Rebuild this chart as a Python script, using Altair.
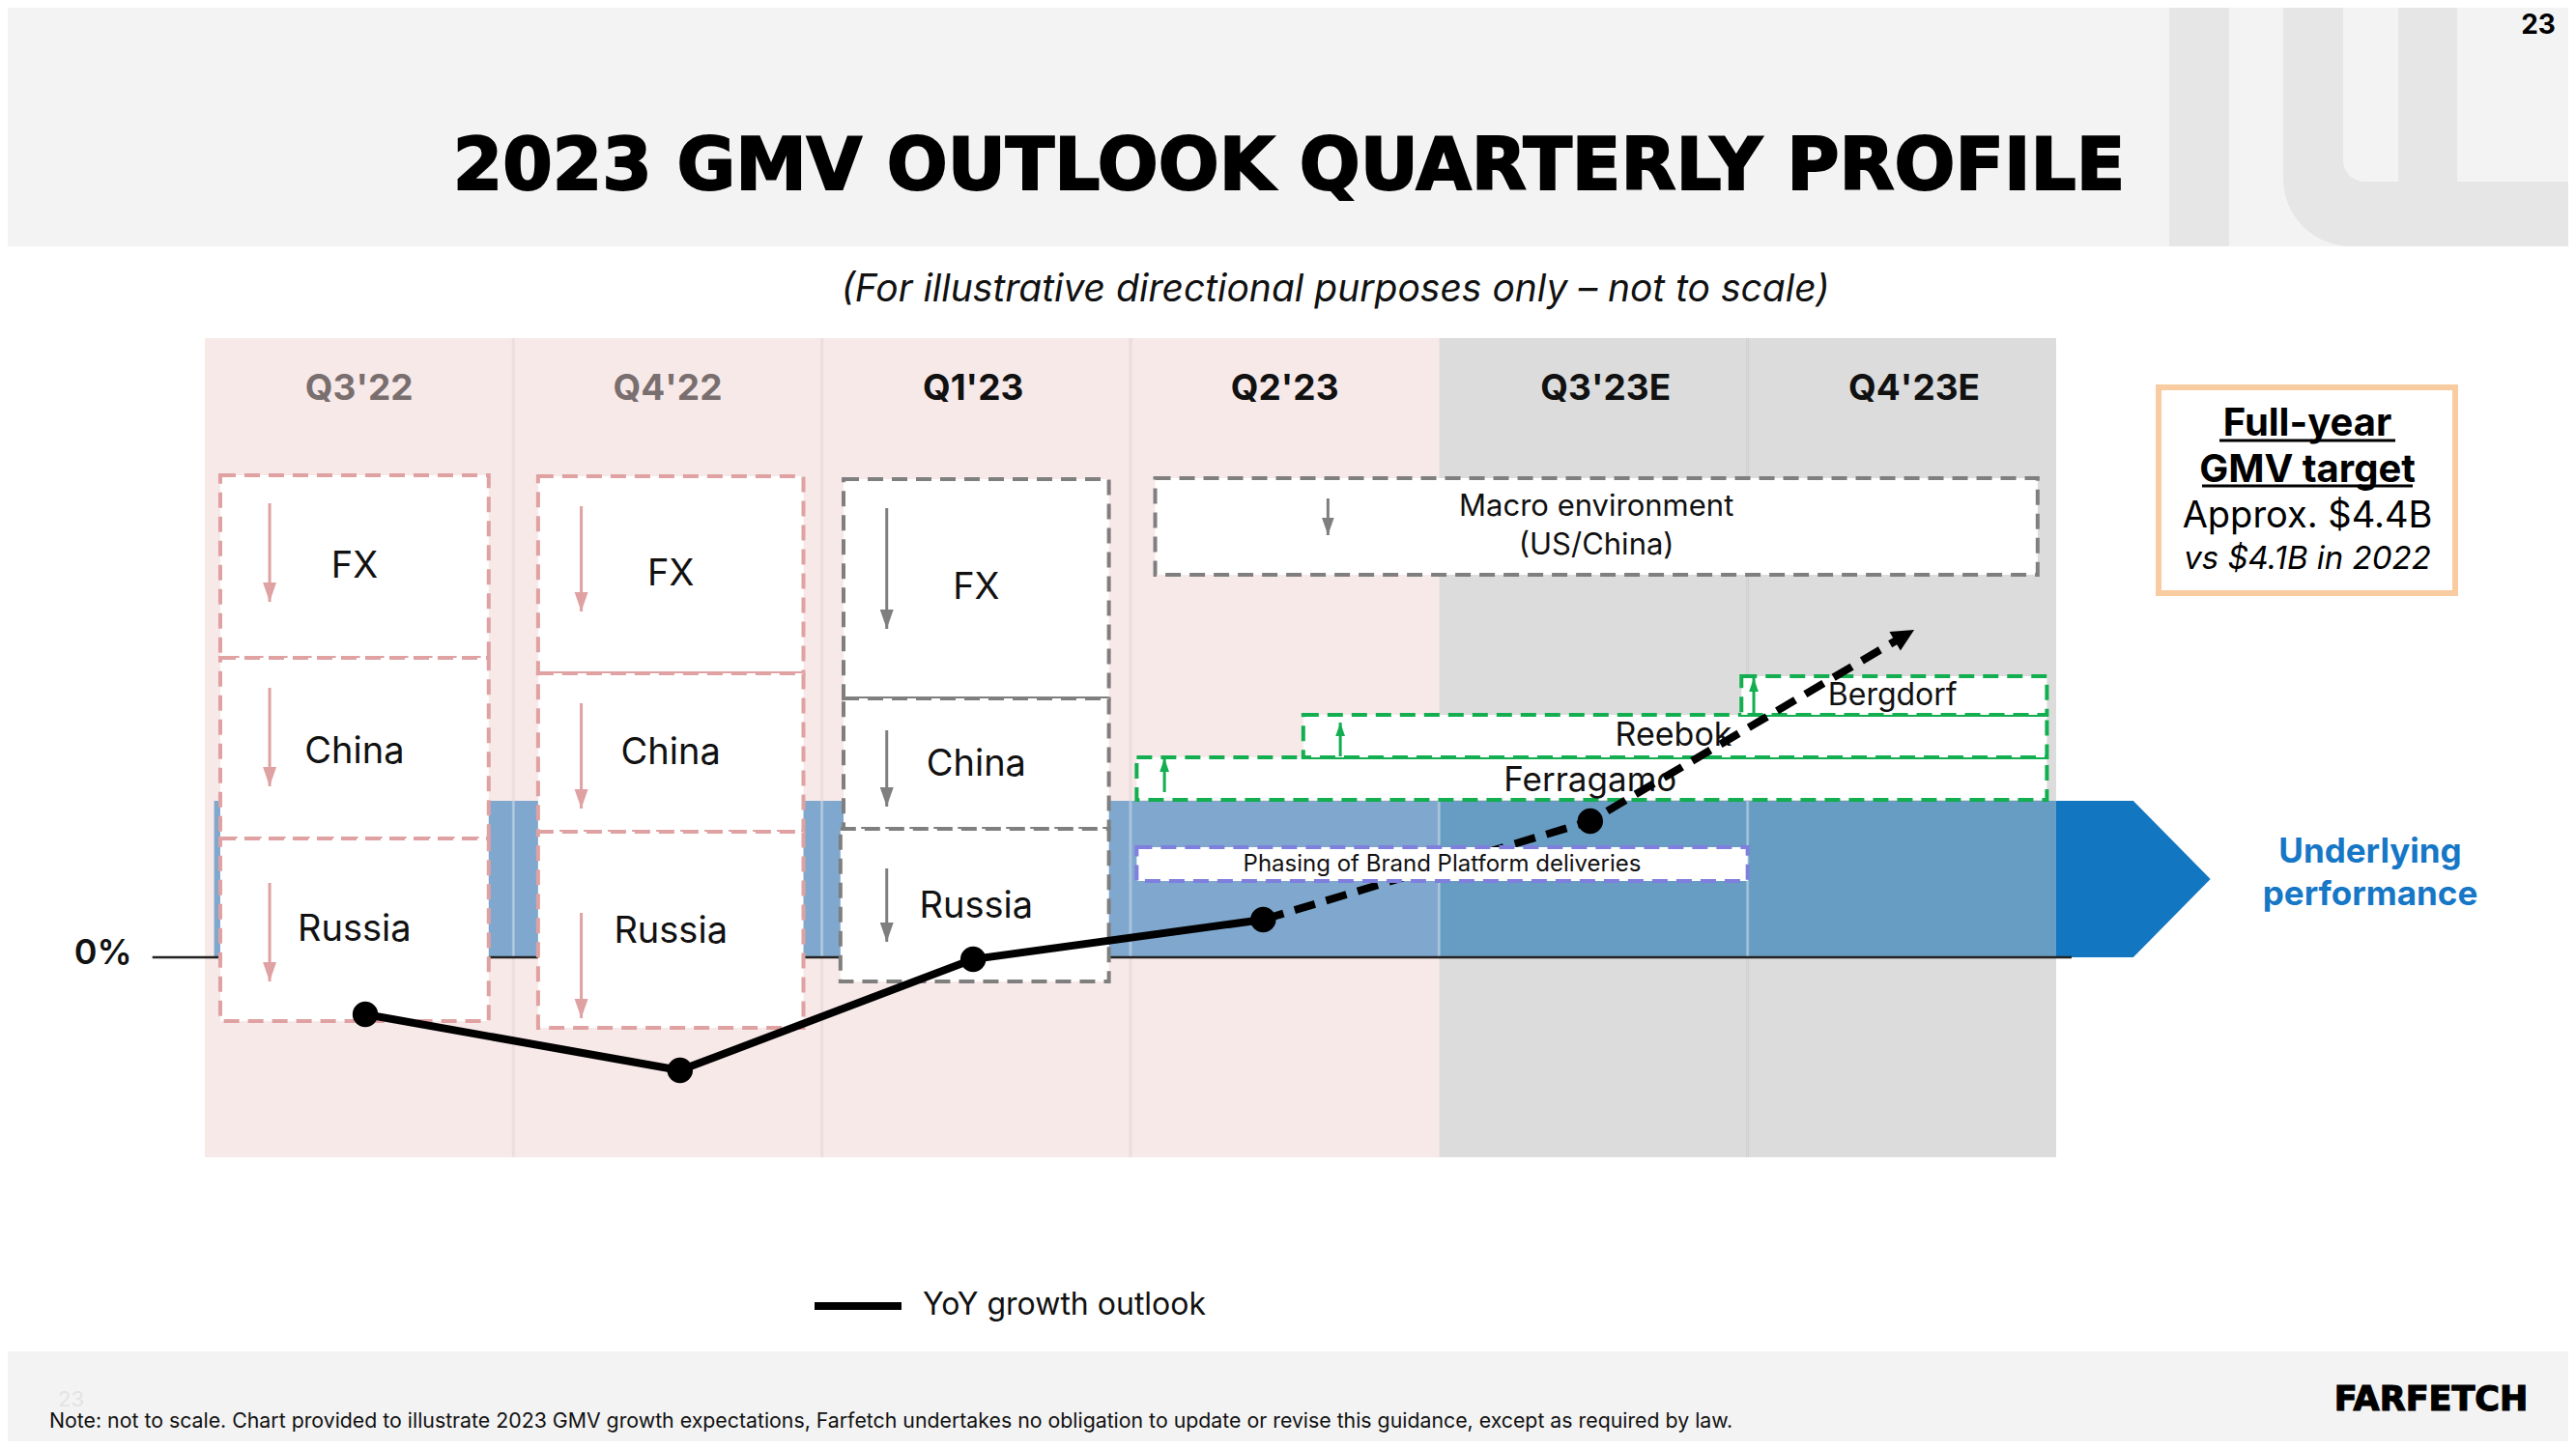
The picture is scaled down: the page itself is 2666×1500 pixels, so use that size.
import math
import altair as alt
import pandas as pd

FONT = "Inter"
HEAVY = "DejaVu Sans"
OFF = 8            # page margin
W, H = 2650, 1484  # chart size

# ---------------- data ----------------
quarters = ["Q3'22", "Q4'22", "Q1'23", "Q2'23", "Q3'23E", "Q4'23E"]
quarter_index = [0, 1, 2, 3, 4, 5]
quarter_label_pos = [0.50, 0.50, 0.49, 0.50, 0.54, 0.54]
quarter_bg = ["#F8E9E9", "#F8E9E9", "#F8E9E9", "#F8E9E9", "#DCDCDC", "#DCDCDC"]
quarter_band = ["#80A8CE", "#80A8CE", "#80A8CE", "#80A8CE", "#689DC3", "#689DC3"]
quarter_label_color = ["#7A6F6F", "#7A6F6F", "#111111", "#111111", "#111111", "#111111"]

# YoY growth outlook (illustrative index, 0 = 0%)
growth_q = [0.52, 1.54, 2.49, 3.43, 4.49, 5.54]
growth_val = [-0.59, -1.17, -0.02, 0.39, 1.41, 3.39]
n_actual = 4

# headwind boxes (FX / China / Russia)
hw_label = ["FX", "China", "Russia", "FX", "China", "Russia", "FX", "China", "Russia"]
hw_x0 = [0.05, 0.05, 0.05, 1.08, 1.08, 1.08, 2.07, 2.07, 2.06]
hw_x1 = [0.92, 0.92, 0.92, 1.94, 1.94, 1.94, 2.93, 2.93, 2.93]
hw_top = [4.99, 3.10, 1.23, 4.98, 2.94, 1.30, 4.95, 2.68, 1.33]
hw_bottom = [3.10, 1.23, -0.66, 2.94, 1.30, -0.73, 2.68, 1.33, -0.25]
hw_label_x = [0.485, 0.485, 0.485, 1.51, 1.51, 1.51, 2.50, 2.50, 2.50]
hw_label_y = [4.04, 2.12, 0.28, 3.96, 2.11, 0.26, 3.82, 1.99, 0.52]
hw_arrow_x = [0.21, 0.21, 0.21, 1.22, 1.22, 1.22, 2.21, 2.21, 2.21]
hw_arrow_from = [4.70, 2.79, 0.77, 4.67, 2.63, 0.46, 4.65, 2.35, 0.92]
hw_arrow_to = [3.68, 1.77, -0.25, 3.58, 1.54, -0.63, 3.40, 1.56, 0.16]
hw_color = ["#DFA1A1"] * 6 + ["#7F7F7F"] * 3

# macro environment box
macro_lines = ["Macro environment", "(US/China)"]
macro_x0, macro_x1, macro_bottom, macro_top = 3.08, 5.94, 3.96, 4.96
macro_text_x, macro_text_y = 4.51, [4.66, 4.26]
macro_arrow_x, macro_arrow_from, macro_arrow_to = 3.64, 4.75, 4.37

# tailwind boxes
tw_label = ["Ferragamo", "Reebok", "Bergdorf"]
tw_x0 = [3.02, 3.56, 4.98]
tw_x1 = [5.97, 5.97, 5.97]
tw_bottom = [1.63, 2.07, 2.51]
tw_top = [2.07, 2.51, 2.91]
tw_label_x = [4.49, 4.76, 5.47]
tw_label_y = [1.83, 2.29, 2.71]
tw_label_size = [35, 34, 32]
tw_arrow_x = [3.11, 3.68, 5.02]
tw_arrow_from = [1.71, 2.08, 2.53]
tw_arrow_to = [2.06, 2.43, 2.89]

# phasing box
phase_label = "Phasing of Brand Platform deliveries"
phase_x0, phase_x1, phase_bottom, phase_top = 3.02, 5.00, 0.79, 1.14
phase_text_x, phase_text_y = 4.01, 0.96

# underlying performance band + arrow
band_start, band_end, band_top = 0.03, 6.0, 1.62
arrow_x = [6.0, 6.25, 6.50]
arrow_lo = [0.0, 0.0, 0.81]
arrow_hi = [1.62, 1.62, 0.81]

panel_bottom, panel_top, header_y = -2.07, 6.41, 5.88
zero_label_x = -0.33
baseline_x0, baseline_x1 = -0.17, 6.05

# ---------------- scales ----------------
COL_X0, COL_W = 212.0, 319.33
ZERO_PX, UNIT_PX = 991.0, 100.0
xdom = [(OFF - COL_X0) / COL_W, (OFF + W - COL_X0) / COL_W]
ydom = [(ZERO_PX - (OFF + H)) / UNIT_PX, (ZERO_PX - OFF) / UNIT_PX]
XS = alt.Scale(domain=xdom, nice=False, zero=False)
YS = alt.Scale(domain=ydom, nice=False, zero=False)

HEAD_DOWN = "M-0.7,-1L0.7,-1L0,1Z"
HEAD_UP = "M0,-1L0.7,1L-0.7,1Z"
HEAD_LINE = "M0,-1L0.85,0.75L-0.85,0.75Z"


def X(f):
    return alt.X(f, type="quantitative", scale=XS, axis=None)


def Y(f):
    return alt.Y(f, type="quantitative", scale=YS, axis=None)


def ptext(text, px, py, size, weight="normal", color="#000000", style="normal",
          align="center", opacity=1.0, font=FONT, **kw):
    return alt.Chart(pd.DataFrame({"t": [text]})).mark_text(
        font=font, fontSize=size, fontWeight=weight, fontStyle=style, color=color,
        align=align, baseline="middle", opacity=opacity, **kw
    ).encode(text="t:N", x=alt.value(px - OFF), y=alt.value(py - OFF))


def prect(x0, y0, x1, y1, **kw):
    return alt.Chart(pd.DataFrame({"a": [0]})).mark_rect(**kw).encode(
        x=alt.value(x0 - OFF), x2=alt.value(x1 - OFF),
        y=alt.value(y0 - OFF), y2=alt.value(y1 - OFF))


def prule(x0, y0, x1, y1, color, width):
    return alt.Chart(pd.DataFrame({"a": [0]})).mark_rule(color=color, strokeWidth=width).encode(
        x=alt.value(x0 - OFF), x2=alt.value(x1 - OFF),
        y=alt.value(y0 - OFF), y2=alt.value(y1 - OFF))


layers = []

# slide header / footer decoration
layers.append(prect(0, 0, 2666, 255, color="#F3F3F3"))
layers.append(prect(2245, 0, 2307, 255, color="#E6E6E6"))
layers.append(prect(2363, 0, 2666, 255, color="#E6E6E6", cornerRadiusBottomLeft=70))
layers.append(prect(2425, 0, 2482, 188, color="#F3F3F3", cornerRadiusBottomLeft=22))
layers.append(prect(2543, 0, 2666, 188, color="#F3F3F3"))
layers.append(prect(0, 1399, 2666, 1500, color="#F3F3F3"))

# quarter columns
cols = pd.DataFrame({
    "q": quarters, "x0": quarter_index, "x1": [i + 1 for i in quarter_index],
    "bg": quarter_bg, "band": quarter_band, "lc": quarter_label_color,
    "xc": [i + p for i, p in zip(quarter_index, quarter_label_pos)],
})
cols["y0"] = panel_bottom
cols["y1"] = panel_top
cols["b0"] = [max(v, band_start) for v in cols["x0"]]
cols["bt"] = band_top
cols["zero"] = 0.0
cols["hy"] = header_y

layers.append(alt.Chart(cols).mark_rect().encode(
    x=X("x0"), x2="x1", y=Y("y0"), y2="y1", color=alt.Color("bg:N", scale=None)))

seps = pd.DataFrame({"x": [1, 2, 3, 5]})
seps["y0"] = panel_bottom
seps["y1"] = panel_top
layers.append(alt.Chart(seps).mark_rule(color="#000000", opacity=0.05, strokeWidth=3).encode(
    x=X("x"), y=Y("y0"), y2="y1"))

# underlying performance band
layers.append(alt.Chart(cols).mark_rect().encode(
    x=X("b0"), x2="x1", y=Y("zero"), y2="bt", color=alt.Color("band:N", scale=None)))
bseps = pd.DataFrame({"x": [1, 2, 3, 4, 5]})
bseps["y0"] = 0.0
bseps["y1"] = band_top
layers.append(alt.Chart(bseps).mark_rule(color="#FFFFFF", opacity=0.3, strokeWidth=3).encode(
    x=X("x"), y=Y("y0"), y2="y1"))
arrow_df = pd.DataFrame({"x": arrow_x, "lo": arrow_lo, "hi": arrow_hi})
layers.append(alt.Chart(arrow_df).mark_area(color="#1276C1", opacity=1).encode(
    x=X("x"), y=Y("lo"), y2="hi"))

# 0% baseline
base_df = pd.DataFrame({"x0": [baseline_x0], "x1": [baseline_x1], "y": [0.0]})
layers.append(alt.Chart(base_df).mark_rule(color="#222222", strokeWidth=2.5).encode(
    x=X("x0"), x2="x1", y=Y("y")))
zl = pd.DataFrame({"x": [zero_label_x], "y": [0.04], "t": ["0%"]})
layers.append(alt.Chart(zl).mark_text(font=FONT, fontSize=36, fontWeight=600, color="#111111",
                                       baseline="middle").encode(x=X("x"), y=Y("y"), text="t:N"))

# headwind boxes
hw = pd.DataFrame({"label": hw_label, "x0": hw_x0, "x1": hw_x1, "top": hw_top, "bottom": hw_bottom,
                   "lx": hw_label_x, "ly": hw_label_y, "ax": hw_arrow_x, "af": hw_arrow_from,
                   "at": hw_arrow_to, "c": hw_color})
layers.append(alt.Chart(hw).mark_rect(fill="#FFFFFF", strokeWidth=4, strokeDash=[16, 9]).encode(
    x=X("x0"), x2="x1", y=Y("bottom"), y2="top", stroke=alt.Stroke("c:N", scale=None)))
layers.append(alt.Chart(hw).mark_rule(strokeWidth=3).encode(
    x=X("ax"), y=Y("af"), y2="at", color=alt.Color("c:N", scale=None)))
layers.append(alt.Chart(hw).mark_point(shape=HEAD_DOWN, filled=True, size=400, opacity=1,
                                       strokeWidth=0, yOffset=-10).encode(
    x=X("ax"), y=Y("at"), color=alt.Color("c:N", scale=None)))
layers.append(alt.Chart(hw).mark_text(font=FONT, fontSize=38, color="#111111", baseline="middle").encode(
    x=X("lx"), y=Y("ly"), text="label:N"))

# macro environment
mac = pd.DataFrame({"x0": [macro_x0], "x1": [macro_x1], "b": [macro_bottom], "t": [macro_top],
                    "ax": [macro_arrow_x], "af": [macro_arrow_from], "at": [macro_arrow_to]})
layers.append(alt.Chart(mac).mark_rect(fill="#FFFFFF", stroke="#7F7F7F", strokeWidth=4,
                                       strokeDash=[16, 9]).encode(x=X("x0"), x2="x1", y=Y("b"), y2="t"))
layers.append(alt.Chart(mac).mark_rule(strokeWidth=3, color="#7F7F7F").encode(x=X("ax"), y=Y("af"), y2="at"))
layers.append(alt.Chart(mac).mark_point(shape=HEAD_DOWN, filled=True, size=324, opacity=1, strokeWidth=0,
                                        color="#7F7F7F", yOffset=-9).encode(x=X("ax"), y=Y("at")))
mtext = pd.DataFrame({"t": macro_lines, "x": [macro_text_x] * 2, "y": macro_text_y})
layers.append(alt.Chart(mtext).mark_text(font=FONT, fontSize=31, color="#111111", baseline="middle").encode(
    x=X("x"), y=Y("y"), text="t:N"))

# tailwinds
tw = pd.DataFrame({"label": tw_label, "x0": tw_x0, "x1": tw_x1, "b": tw_bottom, "t": tw_top,
                   "lx": tw_label_x, "ly": tw_label_y, "s": tw_label_size,
                   "ax": tw_arrow_x, "af": tw_arrow_from, "at": tw_arrow_to})
layers.append(alt.Chart(tw).mark_rect(fill="#FFFFFF", stroke="#12AE50", strokeWidth=4,
                                      strokeDash=[16, 9]).encode(x=X("x0"), x2="x1", y=Y("b"), y2="t"))
layers.append(alt.Chart(tw).mark_rule(strokeWidth=3, color="#12AE50").encode(x=X("ax"), y=Y("af"), y2="at"))
layers.append(alt.Chart(tw).mark_point(shape=HEAD_UP, filled=True, size=196, opacity=1, strokeWidth=0,
                                       color="#12AE50", yOffset=7).encode(x=X("ax"), y=Y("at")))
layers.append(alt.Chart(tw).mark_text(font=FONT, color="#111111", baseline="middle").encode(
    x=X("lx"), y=Y("ly"), text="label:N", size=alt.Size("s:Q", scale=None)))

# YoY growth outlook line
g = pd.DataFrame({"q": growth_q, "v": growth_val, "o": list(range(len(growth_q)))})
solid = g.iloc[:n_actual]
dashed = g.iloc[n_actual - 1:].copy()
# arrow head: centre pulled back from tip along last segment
(qa, va), (qb, vb) = (growth_q[-2], growth_val[-2]), (growth_q[-1], growth_val[-1])
dx_px = (qb - qa) * COL_W
dy_px = -(vb - va) * UNIT_PX
L = math.hypot(dx_px, dy_px)
ux, uy = dx_px / L, dy_px / L
head_size = 700
back = math.sqrt(head_size) / 2
hx = qb - back * ux / COL_W
hy = vb + back * uy / UNIT_PX
angle = math.degrees(math.atan2(dx_px, -dy_px)) % 360
dashed.iloc[-1, dashed.columns.get_loc("q")] = hx
dashed.iloc[-1, dashed.columns.get_loc("v")] = hy

layers.append(alt.Chart(solid).mark_line(color="#000000", strokeWidth=8, strokeCap="round",
                                         strokeJoin="round").encode(x=X("q"), y=Y("v"), order="o:Q"))
layers.append(alt.Chart(dashed).mark_line(color="#000000", strokeWidth=8, strokeDash=[22, 12]).encode(
    x=X("q"), y=Y("v"), order="o:Q"))
head = pd.DataFrame({"q": [hx], "v": [hy]})
layers.append(alt.Chart(head).mark_point(shape=HEAD_LINE, filled=True, size=head_size, opacity=1,
                                         strokeWidth=0, color="#000000", angle=angle).encode(x=X("q"), y=Y("v")))
layers.append(alt.Chart(g.iloc[:-1]).mark_circle(size=700, color="#000000", opacity=1).encode(
    x=X("q"), y=Y("v")))

# phasing box (on top of line)
ph = pd.DataFrame({"x0": [phase_x0], "x1": [phase_x1], "b": [phase_bottom], "t": [phase_top],
                   "tx": [phase_text_x], "ty": [phase_text_y], "l": [phase_label]})
layers.append(alt.Chart(ph).mark_rect(fill="#FFFFFF", stroke="#7F7FDD", strokeWidth=4,
                                      strokeDash=[16, 9]).encode(x=X("x0"), x2="x1", y=Y("b"), y2="t"))
layers.append(alt.Chart(ph).mark_text(font=FONT, fontSize=24, color="#111111", baseline="middle").encode(
    x=X("tx"), y=Y("ty"), text="l:N"))

# quarter headers
layers.append(alt.Chart(cols).mark_text(font=FONT, fontSize=37, fontWeight="bold", baseline="middle").encode(
    x=X("xc"), y=Y("hy"), text="q:N", color=alt.Color("lc:N", scale=None)))

# slide texts
layers.append(ptext("2023 GMV OUTLOOK QUARTERLY PROFILE", 1334, 174, 74, weight="bold", color="#000000",
                    font=HEAVY, stroke="#000000", strokeWidth=2))
layers.append(ptext("23", 2627, 27, 28, weight="bold", color="#000000"))
layers.append(ptext("(For illustrative directional purposes only \u2013 not to scale)", 1382, 300, 39,
                    style="italic", color="#111111"))

# full-year target box
layers.append(prect(2234, 401, 2541, 614, fill="#FFFFFF", stroke="#F8CBA0", strokeWidth=6))
layers.append(ptext("Full-year ", 2388, 439, 40, weight="bold"))
layers.append(prule(2297, 456, 2479, 456, "#000000", 3))
layers.append(ptext("GMV target", 2388, 487, 40, weight="bold"))
layers.append(prule(2279, 503, 2497, 503, "#000000", 3))
layers.append(ptext("Approx. $4.4B", 2388, 535, 38))
layers.append(ptext("vs $4.1B in 2022", 2388, 579, 33, style="italic"))

layers.append(ptext("Underlying", 2453, 882, 35, weight="bold", color="#1677C6"))
layers.append(ptext("performance", 2453, 926, 35, weight="bold", color="#1677C6"))

# legend
layers.append(prule(843, 1352, 933, 1352, "#000000", 8))
layers.append(ptext("YoY growth outlook", 955, 1351, 32, align="left", color="#111111"))

# footer
layers.append(ptext("23", 60, 1449, 22, color="#E4E4E4", align="left"))
layers.append(ptext("Note: not to scale. Chart provided to illustrate 2023 GMV growth expectations, Farfetch "
                    "undertakes no obligation to update or revise this guidance, except as required by law.",
                    51, 1472, 21.3, align="left", color="#111111"))
layers.append(ptext("FARFETCH", 2516, 1449, 35, weight="bold", color="#000000", font=HEAVY,
                    stroke="#000000", strokeWidth=1.2))

chart = alt.layer(*layers).properties(
    width=W, height=H, padding=0, background="#FFFFFF",
    autosize=alt.AutoSizeParams(type="none"),
).configure_view(strokeWidth=0)

chart.save("out.html", embed_options={"renderer": "svg", "actions": False})
